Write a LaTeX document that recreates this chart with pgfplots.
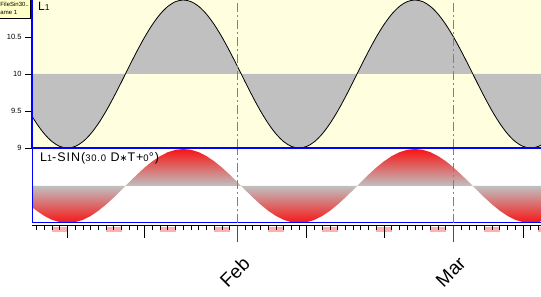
\documentclass[border=0pt]{standalone}
\usepackage{pgfplots}
\usepackage{pgfplotstable}
\pgfplotsset{compat=1.18}
\usepgfplotslibrary{fillbetween}
\usepackage{fontspec}
\setmainfont{Liberation Sans}
\newfontfamily\dejavu{DejaVu Sans}
\definecolor{bgy}{RGB}{255,255,224}
\definecolor{silv}{RGB}{192,192,192}
\definecolor{pinkc}{RGB}{255,176,176}
\definecolor{tipc}{RGB}{255,255,200}
\definecolor{gridg}{RGB}{128,128,128}
\definecolor{pureblue}{RGB}{0,0,255}
\definecolor{purered}{RGB}{255,0,0}
\pgfdeclareverticalshading{redgray}{100bp}{color(0bp)=(purered); color(22bp)=(purered); color(50bp)=(silv); color(78bp)=(purered); color(100bp)=(purered)}

\pgfplotstableread{
d y
4 9.500
5 9.331
6 9.191
7 9.086
8 9.022
9 9.000
10 9.022
11 9.086
12 9.191
13 9.331
14 9.500
15 9.691
16 9.895
17 10.105
18 10.309
19 10.500
20 10.669
21 10.809
22 10.914
23 10.978
24 11.000
25 10.978
26 10.914
27 10.809
28 10.669
29 10.500
30 10.309
31 10.105
32 9.895
33 9.691
34 9.500
35 9.331
36 9.191
37 9.086
38 9.022
39 9.000
40 9.022
41 9.086
42 9.191
43 9.331
44 9.500
45 9.691
46 9.895
47 10.105
48 10.309
49 10.500
50 10.669
51 10.809
52 10.914
53 10.978
54 11.000
55 10.978
56 10.914
57 10.809
58 10.669
59 10.500
60 10.309
61 10.105
62 9.895
63 9.691
64 9.500
65 9.331
66 9.191
67 9.086
68 9.022
69 9.000
70 9.022
71 9.086
72 9.191
}\sinedata

% same curve, closed along the centre line y=10 (region between curve and 10)
\pgfplotstableread{
d y
4 9.500
5 9.331
6 9.191
7 9.086
8 9.022
9 9.000
10 9.022
11 9.086
12 9.191
13 9.331
14 9.500
15 9.691
16 9.895
17 10.105
18 10.309
19 10.500
20 10.669
21 10.809
22 10.914
23 10.978
24 11.000
25 10.978
26 10.914
27 10.809
28 10.669
29 10.500
30 10.309
31 10.105
32 9.895
33 9.691
34 9.500
35 9.331
36 9.191
37 9.086
38 9.022
39 9.000
40 9.022
41 9.086
42 9.191
43 9.331
44 9.500
45 9.691
46 9.895
47 10.105
48 10.309
49 10.500
50 10.669
51 10.809
52 10.914
53 10.978
54 11.000
55 10.978
56 10.914
57 10.809
58 10.669
59 10.500
60 10.309
61 10.105
62 9.895
63 9.691
64 9.500
65 9.331
66 9.191
67 9.086
68 9.022
69 9.000
70 9.022
71 9.086
72 9.191
72 10
4 10
}\sinepoly

\pgfplotsset{
  panelgrid/.style={
    extra x ticks={31,59}, extra x tick labels={},
    extra x tick style={grid=major, major tick length=0pt},
    major grid style={gridg, line width=0.8pt, dash pattern=on 9pt off 3pt on 2pt off 3pt},
  }
}

\begin{document}
\begin{tikzpicture}

% ---------- top panel ----------
\begin{axis}[
  at={(32pt,149pt)}, anchor=south west, scale only axis,
  width=520pt, height=148pt,
  xmin=4.4, xmax=71.756, ymin=9, ymax=11,
  axis x line*=bottom, axis y line*=left,
  axis line style={pureblue, line width=2pt, -},
  axis background/.style={fill=bgy},
  xtick=\empty, ytick={9,9.5,10,10.5},
  tick align=outside, major tick length=7pt,
  tick style={black, line width=0.6pt},
  /pgf/number format/assume math mode=true,
  yticklabel style={font=\fontsize{7.5}{8}\selectfont},
  panelgrid, axis on top,
]
\addplot[name path=T, draw=none, smooth] table[x=d,y=y] {\sinedata};
\addplot[name path=M, draw=none] coordinates {(4,10) (72,10)};
\addplot[fill=silv, draw=none] fill between[of=T and M];
\addplot[black, line width=0.8pt, smooth] table[x=d,y=y] {\sinedata};
\end{axis}

% ---------- bottom panel ----------
\begin{axis}[
  at={(32pt,74pt)}, anchor=south west, scale only axis,
  width=520pt, height=74pt,
  xmin=4.4, xmax=71.756, ymin=9, ymax=11,
  axis line style={pureblue, line width=1pt},
  xtick=\empty, ytick=\empty,
  panelgrid, axis on top,
]
\addplot[shading=redgray, draw=none] table[x=d,y=y] {\sinepoly};
\end{axis}

% ---------- date axis ----------
\begin{axis}[
  at={(32pt,71.3pt)}, anchor=south west, scale only axis,
  width=520pt, height=10pt,
  xmin=4.4, xmax=71.756, ymin=0, ymax=1,
  axis x line=bottom, axis y line=none,
  axis line style={black, line width=0.8pt, -},
  xtick={9,19,40,50,68}, xticklabels={},
  minor xtick={5,6,...,71},
  tick align=outside, major tick length=12pt, minor tick length=4.7pt,
  tick style={black, line width=0.8pt},
  extra x ticks={31,59}, extra x tick labels={Feb,Mar},
  extra x tick style={major tick length=16pt, tick style={purered, line width=1pt},
    xticklabel style={xshift=4pt, yshift=-9pt, rotate=45, anchor=north east, font=\fontsize{19}{19}\selectfont}},
  clip=false, axis on top,
]
\addplot[fill=pinkc, draw=none] coordinates {(7,-0.16) (9,-0.16) (9,-0.66) (7,-0.66)};
\addplot[fill=pinkc, draw=none] coordinates {(14,-0.16) (16,-0.16) (16,-0.66) (14,-0.66)};
\addplot[fill=pinkc, draw=none] coordinates {(21,-0.16) (23,-0.16) (23,-0.66) (21,-0.66)};
\addplot[fill=pinkc, draw=none] coordinates {(28,-0.16) (30,-0.16) (30,-0.66) (28,-0.66)};
\addplot[fill=pinkc, draw=none] coordinates {(35,-0.16) (37,-0.16) (37,-0.66) (35,-0.66)};
\addplot[fill=pinkc, draw=none] coordinates {(42,-0.16) (44,-0.16) (44,-0.66) (42,-0.66)};
\addplot[fill=pinkc, draw=none] coordinates {(49,-0.16) (51,-0.16) (51,-0.66) (49,-0.66)};
\addplot[fill=pinkc, draw=none] coordinates {(56,-0.16) (58,-0.16) (58,-0.66) (56,-0.66)};
\addplot[fill=pinkc, draw=none] coordinates {(63,-0.16) (65,-0.16) (65,-0.66) (63,-0.66)};
\addplot[fill=pinkc, draw=none] coordinates {(70,-0.16) (72,-0.16) (72,-0.66) (70,-0.66)};
\end{axis}

% ---------- labels ----------
\node[anchor=north west, inner sep=0pt, font=\fontsize{12}{12}\selectfont] at (38pt,294.7pt)
  {L{\fontsize{8.5}{8.5}\selectfont 1}};
\node[anchor=north west, inner sep=0pt, font=\fontsize{12.5}{12.5}\selectfont\addfontfeature{LetterSpace=8}] at (40pt,144.7pt)
  {L{\fontsize{9}{9}\selectfont 1}-SIN({\fontsize{9.5}{9.5}\selectfont 30.0} D{\fontsize{9.5}{9.5}\selectfont\dejavu ∗}T+{\fontsize{9.5}{9.5}\selectfont 0}°)};

% ---------- tooltip box ----------
\draw[black, line width=0.6pt, fill=tipc] (-5pt,279pt) rectangle (30.3pt,302pt);
\node[anchor=base west, inner sep=0pt, font=\fontsize{6}{6}\selectfont] at (0.3pt,290.8pt) {FileSin30..};
\node[anchor=base west, inner sep=0pt, font=\fontsize{6}{6}\selectfont] at (0.3pt,282pt) {ame 1};

\pgfresetboundingbox
\useasboundingbox (0pt,0pt) rectangle (541pt,297pt);
\end{tikzpicture}
\end{document}
